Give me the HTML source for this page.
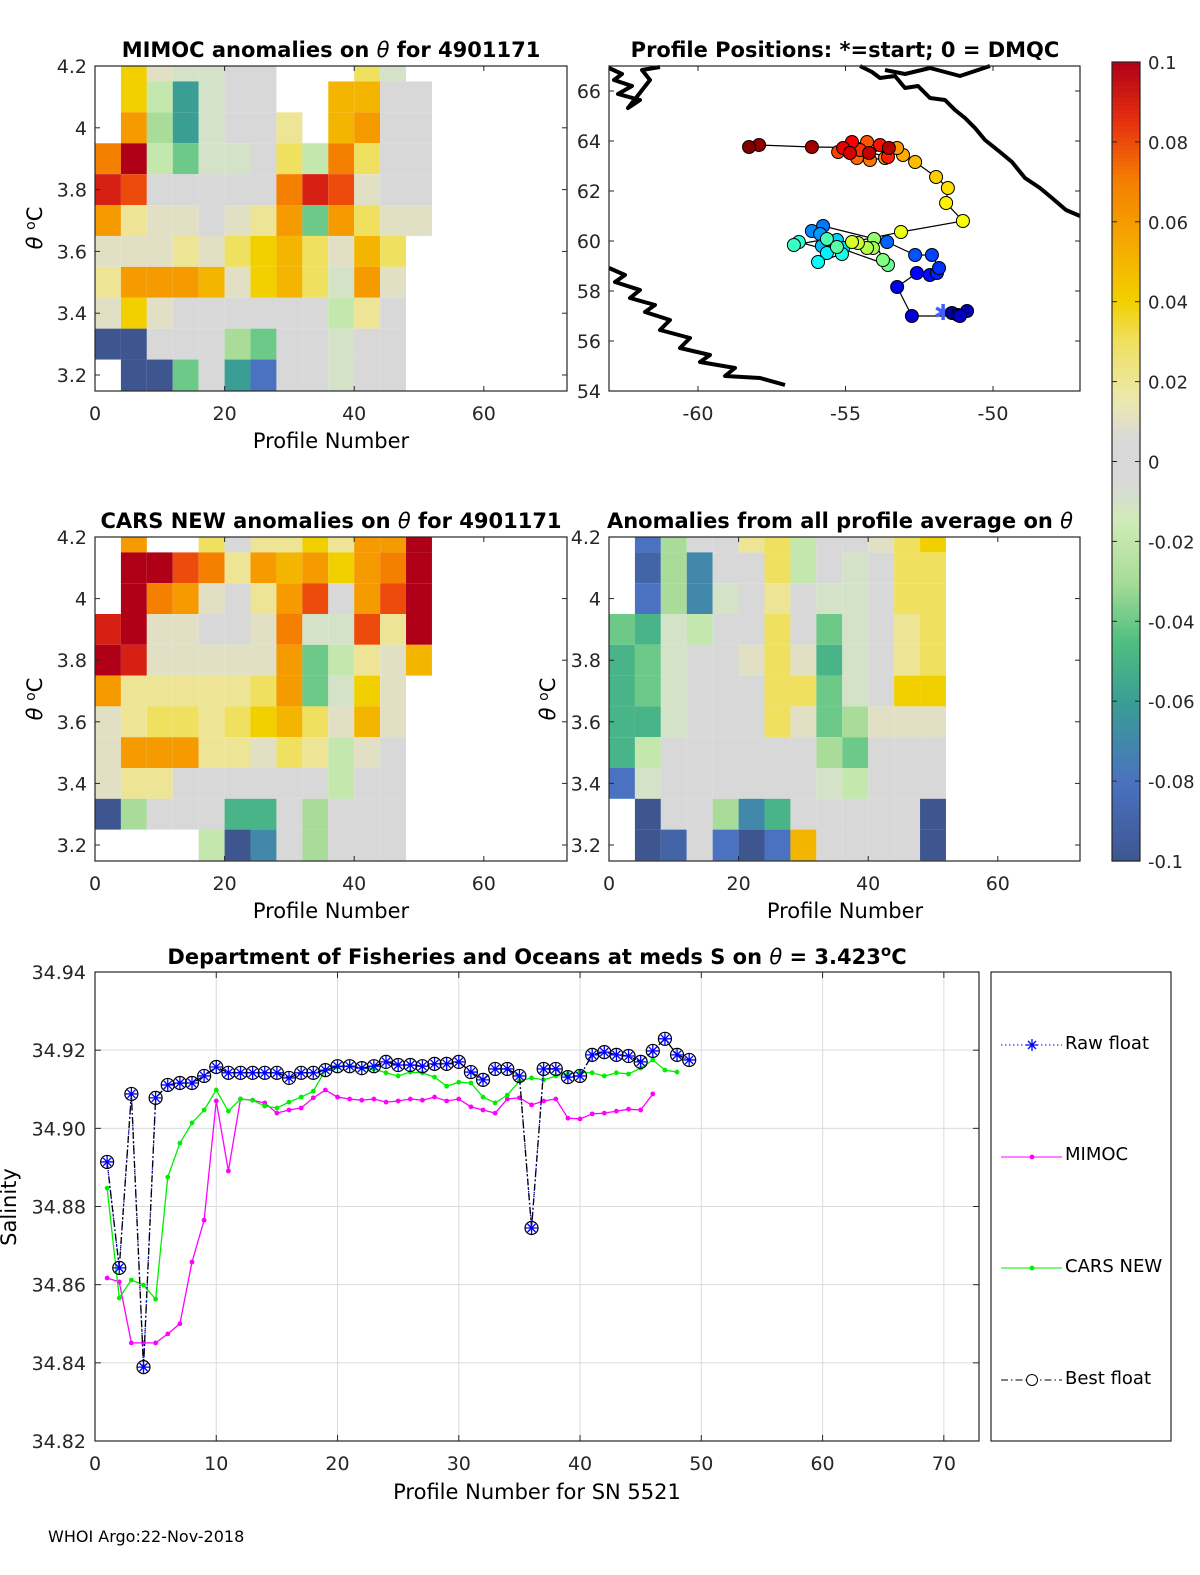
<!DOCTYPE html>
<html><head><meta charset="utf-8">
<style>
html,body{margin:0;padding:0;background:#fff;}
svg{display:block;font-family:"DejaVu Sans","Liberation Sans",sans-serif;}
</style></head>
<body>
<svg id="fig" width="1200" height="1575" viewBox="0 0 1200 1575" xmlns="http://www.w3.org/2000/svg">
<g id="heat1"></g>
<g id="heat2"></g>
<g id="heat3"></g>
<g id="mapg"></g>
<g id="cbar"></g>
<g id="bottom"></g>
<g id="axes"></g>
<text x="331" y="57" font-size="21" font-weight="bold" text-anchor="middle">MIMOC anomalies on <tspan font-style="italic" font-weight="normal">θ</tspan>  for 4901171</text>
<text x="845" y="57" font-size="21" font-weight="bold" text-anchor="middle">Profile Positions: *=start; 0 = DMQC</text>
<text x="331" y="528" font-size="21" font-weight="bold" text-anchor="middle">CARS NEW anomalies on <tspan font-style="italic" font-weight="normal">θ</tspan> for 4901171</text>
<text x="840" y="528" font-size="21" font-weight="bold" text-anchor="middle">Anomalies from all profile average on <tspan font-style="italic" font-weight="normal">θ</tspan></text>
<text x="537" y="964" font-size="21" font-weight="bold" text-anchor="middle">Department of Fisheries and Oceans at meds S on <tspan font-style="italic" font-weight="normal">θ</tspan> = 3.423<tspan dy="-8" font-size="15">o</tspan><tspan dy="8">C</tspan></text>
<text x="331" y="448" font-size="21" text-anchor="middle">Profile Number</text>
<text x="331" y="918" font-size="21" text-anchor="middle">Profile Number</text>
<text x="845" y="918" font-size="21" text-anchor="middle">Profile Number</text>
<text x="537" y="1499" font-size="21" text-anchor="middle">Profile Number for SN 5521</text>
<text transform="translate(42,228) rotate(-90)" font-size="21" text-anchor="middle"><tspan font-style="italic">θ</tspan> <tspan dy="-7" font-size="14">o</tspan><tspan dy="7">C</tspan></text>
<text transform="translate(42,699) rotate(-90)" font-size="21" text-anchor="middle"><tspan font-style="italic">θ</tspan> <tspan dy="-7" font-size="14">o</tspan><tspan dy="7">C</tspan></text>
<text transform="translate(555,699) rotate(-90)" font-size="21" text-anchor="middle"><tspan font-style="italic">θ</tspan> <tspan dy="-7" font-size="14">o</tspan><tspan dy="7">C</tspan></text>
<text transform="translate(16,1207) rotate(-90)" font-size="21" text-anchor="middle">Salinity</text>
<text x="48" y="1542" font-size="16">WHOI Argo:22-Nov-2018</text>
</svg>
<script>
const NS="http://www.w3.org/2000/svg";
const n=null;
// ---- heatmap data: rows theta 4.2 .. 3.2 step 0.1, cols profiles in blocks of 4 (0-4,...,48-52)
const thetaRows=[4.2,4.1,4.0,3.9,3.8,3.7,3.6,3.5,3.4,3.3,3.2];
const profileBlocks=[0,4,8,12,16,20,24,28,32,36,40,44,48];
const mimocGrid=[
[n,0.04,0.01,-0.01,-0.01,0,0,n,n,n,0.03,-0.01,n],
[n,0.04,-0.02,-0.06,-0.01,0,0,n,n,0.05,0.05,0,0],
[n,0.06,-0.03,-0.06,-0.01,0,0,0.02,n,0.05,0.06,0,0],
[0.07,0.1,-0.02,-0.04,-0.01,-0.01,0,0.03,-0.02,0.07,0.03,0,0],
[0.09,0.08,0,0,0,0,0,0.07,0.09,0.08,0.01,0,0],
[0.06,0.02,0.01,0.01,0,0.01,0.02,0.06,-0.04,0.06,0.03,0.01,0.01],
[0.01,0.01,0.01,0.02,0.01,0.03,0.04,0.05,0.03,0.01,0.05,0.03,n],
[0.02,0.06,0.06,0.06,0.05,0.01,0.04,0.05,0.03,-0.01,0.06,0.01,n],
[0.01,0.04,0.01,0,0,0,0,0,0,-0.02,0.02,0,n],
[-0.1,-0.1,0,0,0,-0.03,-0.04,0,0,-0.01,0,0,n],
[n,-0.1,-0.1,-0.04,0,-0.06,-0.08,0,0,-0.01,0,0,n]];
const carsGrid=[
[n,0.06,n,n,0.03,0,0.02,0.02,0.04,0.02,0.06,0.06,0.1],
[n,0.1,0.1,0.08,0.07,0.02,0.06,0.05,0.06,0.04,0.06,0.07,0.1],
[n,0.1,0.07,0.06,0.01,0,0.02,0.06,0.08,0,0.06,0.08,0.1],
[0.09,0.1,0.01,0.01,0,0,0.01,0.07,-0.01,-0.01,0.08,0.02,0.1],
[0.1,0.09,0.01,0.01,0.01,0.01,0.01,0.06,-0.04,-0.02,0.02,0.01,0.05],
[0.06,0.02,0.02,0.02,0.02,0.02,0.03,0.06,-0.04,-0.01,0.04,0.01,n],
[0.01,0.02,0.03,0.03,0.02,0.03,0.04,0.05,0.03,0.01,0.05,0.01,n],
[0.01,0.06,0.06,0.06,0.02,0.02,0.01,0.03,0.02,-0.02,0.01,0,n],
[0.01,0.02,0.02,0,0,0,0,0,0,-0.02,0,0,n],
[-0.1,-0.03,0,0,0,-0.05,-0.05,0,-0.03,0,0,0,n],
[n,n,n,n,-0.02,-0.1,-0.07,0,-0.03,0,0,0,n]];
const avgGrid=[
[n,-0.08,-0.03,0,0,0.02,0.03,-0.02,0,0,0.01,0.03,0.04],
[n,-0.09,-0.03,-0.07,0,0,0.03,-0.02,0,-0.01,0,0.03,0.03],
[n,-0.08,-0.03,-0.07,-0.01,0,0.02,0,-0.01,-0.01,0,0.03,0.03],
[-0.04,-0.05,-0.01,-0.02,0,0,0.03,0,-0.04,-0.01,0,0.02,0.03],
[-0.05,-0.04,-0.01,0,0,0.01,0.03,0.01,-0.05,-0.01,0,0.02,0.03],
[-0.05,-0.04,-0.01,0,0,0,0.03,0.03,-0.04,-0.01,0,0.04,0.04],
[-0.05,-0.05,-0.01,0,0,0,0.03,0.01,-0.04,-0.03,0.01,0.01,0.01],
[-0.05,-0.02,0,0,0,0,0,0,-0.03,-0.04,0,0,0],
[-0.08,-0.01,0,0,0,0,0,0,-0.01,-0.02,0,0,0],
[n,-0.1,0,0,-0.03,-0.07,-0.05,0,0,0,0,0,-0.1],
[n,-0.1,-0.09,0,-0.08,-0.1,-0.08,0.05,0,0,0,0,-0.1]];
// ---- map data
const lons=[-51.69,-51.39,-51.19,-50.88,-51.12,-52.75,-53.25,-52.58,-52.14,-51.90,-51.83,-52.07,-52.64,-53.59,-55.76,-56.14,-55.86,-55.63,-55.80,-55.29,-55.08,-55.63,-55.93,-55.12,-56.58,-56.75,-55.63,-55.29,-53.56,-53.73,-54.03,-54.07,-54.27,-54.58,-54.78,-53.12,-51.02,-51.59,-51.53,-51.93,-52.64,-53.05,-53.25,-53.66,-54.17,-54.61,-54.27,-55.25,-54.51,-53.56,-53.83,-54.78,-55.08,-54.85,-54.20,-53.53,-56.14,-57.93,-58.27];
const lats=[57.16,57.12,57.04,57.2,57.0,57.0,58.16,58.72,58.64,58.72,58.92,59.44,59.44,59.96,60.6,60.4,60.28,60.04,59.8,60.04,59.72,59.52,59.16,59.48,59.96,59.84,60.08,59.76,59.04,59.24,60.08,59.72,59.72,59.92,59.96,60.36,60.8,61.52,62.12,62.56,63.16,63.44,63.72,63.32,63.24,63.32,63.96,63.56,63.64,63.36,63.84,63.96,63.72,63.52,63.52,63.72,63.76,63.84,63.76];
// ---- salinity chart data
const profiles=[1,2,3,4,5,6,7,8,9,10,11,12,13,14,15,16,17,18,19,20,21,22,23,24,25,26,27,28,29,30,31,32,33,34,35,36,37,38,39,40,41,42,43,44,45,46,47,48,49];
const bestFloat=[34.8914,34.8643,34.9088,34.8389,34.9078,34.9111,34.9116,34.9116,34.9134,34.9157,34.9142,34.9142,34.9142,34.9142,34.9142,34.9129,34.9142,34.9142,34.9149,34.9159,34.9159,34.9154,34.9159,34.917,34.9162,34.9162,34.9159,34.9165,34.9165,34.917,34.9144,34.9124,34.9152,34.9152,34.9134,34.8745,34.9152,34.9152,34.9131,34.9134,34.9188,34.9195,34.9188,34.9185,34.917,34.9198,34.9229,34.9188,34.9175];
const carsVals=[34.8847,34.8566,34.8612,34.8599,34.8563,34.8875,34.8962,34.9014,34.9047,34.9098,34.9044,34.9075,34.9072,34.9057,34.9052,34.9067,34.908,34.9095,34.9149,34.9157,34.9159,34.9154,34.9152,34.9142,34.9134,34.9144,34.9142,34.9131,34.9108,34.9118,34.9116,34.908,34.9065,34.9085,34.9121,34.9129,34.9124,34.9134,34.9139,34.9144,34.9142,34.9134,34.9142,34.9139,34.9154,34.9175,34.9149,34.9144];
const mimocVals=[34.8617,34.8607,34.8451,34.8451,34.8451,34.8474,34.85,34.8658,34.8765,34.907,34.8891,34.9075,34.9072,34.9065,34.9039,34.9047,34.9052,34.9078,34.9098,34.908,34.9075,34.9072,34.9075,34.9067,34.907,34.9075,34.9072,34.908,34.907,34.9075,34.9055,34.9047,34.9039,34.9075,34.9078,34.906,34.907,34.9075,34.9026,34.9024,34.9037,34.9039,34.9044,34.9049,34.9047,34.9088];
const salTicks=[34.82,34.84,34.86,34.88,34.9,34.92,34.94];
const salXTicks=[0,10,20,30,40,50,60,70];
const thetaTicks=[3.2,3.4,3.6,3.8,4,4.2];
const profTicks=[0,20,40,60];
const latTicks=[54,56,58,60,62,64,66];
const lonTicks=[-60,-55,-50];
const cbarTicks=[0.1,0.08,0.06,0.04,0.02,0,-0.02,-0.04,-0.06,-0.08,-0.1];

function mk(tag,attrs,parent){const e=document.createElementNS(NS,tag);for(const k in attrs)e.setAttribute(k,attrs[k]);(parent||document.getElementById('fig')).appendChild(e);return e;}
const stops=[[-0.1,[61,86,144]],[-0.08,[74,114,192]],[-0.06,[58,158,148]],[-0.045,[79,191,128]],[-0.03,[168,220,152]],[-0.015,[208,236,184]],[-0.005,[216,216,216]],[0.005,[216,216,216]],[0.015,[236,232,176]],[0.03,[239,224,96]],[0.04,[242,208,0]],[0.055,[245,168,0]],[0.07,[245,128,0]],[0.085,[232,48,16]],[0.1,[176,0,24]]];
function cmap(v){v=Math.max(-0.1,Math.min(0.1,v));for(let i=0;i<stops.length-1;i++){const a=stops[i],b=stops[i+1];if(v<=b[0]){const t=(v-a[0])/(b[0]-a[0]||1);const c=a[1].map((x,j)=>Math.round(x+(b[1][j]-x)*t));return `rgb(${c[0]},${c[1]},${c[2]})`;}}return 'rgb(176,0,24)';}

function heatPanel(gid,grid,X0,Y0,W,H,thTop,pxPerTheta){
  const g=document.getElementById(gid);
  const xs=p=>X0+p*6.48; const ys=t=>Y0+(thTop-t)*pxPerTheta;
  grid.forEach((row,r)=>row.forEach((v,c)=>{
    if(v===null)return;
    const t=thetaRows[r];
    const y1=Math.max(Y0,ys(t+0.05)), y2=Math.min(Y0+H,ys(t-0.05));
    const x1=xs(profileBlocks[c]), x2=Math.min(X0+W,xs(profileBlocks[c]+4));
    const e=mk('rect',{x:x1,y:y1,width:x2-x1,height:y2-y1,fill:cmap(v)},g);
    
    
  }));
  const ax=document.getElementById('axes');
  const f=mk('rect',{x:X0,y:Y0,width:W,height:H,fill:'none',stroke:'#262626','stroke-width':1.2},ax);
  
  
  thetaTicks.forEach(t=>{const y=ys(t);if(y<Y0-1||y>Y0+H)return;
    mk('line',{x1:X0,x2:X0+5,y1:y,y2:y,stroke:'#262626'},ax);mk('line',{x1:X0+W,x2:X0+W-5,y1:y,y2:y,stroke:'#262626'},ax);
    const tx=mk('text',{x:X0-8,y:y+7,'font-size':19,'text-anchor':'end',fill:'#262626'},ax);tx.textContent=String(t);
    
    });
  profTicks.forEach(p=>{const x=xs(p);
    mk('line',{x1:x,x2:x,y1:Y0+H,y2:Y0+H-5,stroke:'#262626'},ax);mk('line',{x1:x,x2:x,y1:Y0,y2:Y0+5,stroke:'#262626'},ax);
    const tx=mk('text',{x:x,y:Y0+H+29,'font-size':19,'text-anchor':'middle',fill:'#262626'},ax);tx.textContent=String(p);
    
    });
}
heatPanel('heat1',mimocGrid,95,66,472,325,4.2,309);
heatPanel('heat2',carsGrid,95,537,472,324,4.2,308);
heatPanel('heat3',avgGrid,609,537,471,324,4.2,308);

// ---- map
(function(){
  const g=document.getElementById('mapg');
  const mx=lo=>698+(lo+60)*29.5, my=la=>391-(la-54)*25;
  const coasts=[
   "609,68 622,74 614,80 632,86 618,94 640,100 628,108 650,80 642,70 660,67",
   "860,66 872,72 880,78 895,76 905,88 918,86 930,98 945,100 955,110 965,118 975,128 985,140 1000,152 1012,162 1025,178 1040,188 1052,198 1066,210 1080,216",
   "885,70 905,74 930,68 960,76 990,66",
   "609,268 625,275 615,282 640,290 630,298 655,305 645,312 670,320 660,330 690,338 680,348 710,355 700,362 735,368 725,376 760,378 785,385"];
  coasts.forEach(p=>{const e=mk('polyline',{points:p,fill:'none',stroke:'#000','stroke-width':4,'stroke-linejoin':'round'},g);
    
    });
  const pts=lons.map((lo,i)=>mx(lo)+','+my(lats[i])).join(' ');
  const tr=mk('polyline',{points:pts,fill:'none',stroke:'#000','stroke-width':1.2},g);
  
  
  function jet(t){const r=Math.max(0,Math.min(1,1.5-Math.abs(4*t-3))),gg=Math.max(0,Math.min(1,1.5-Math.abs(4*t-2))),b=Math.max(0,Math.min(1,1.5-Math.abs(4*t-1)));return `rgb(${Math.round(r*255)},${Math.round(gg*255)},${Math.round(b*255)})`;}
  lons.forEach((lo,i)=>{
    if(i===0){const s=mk('text',{x:mx(lo),y:my(lats[i])+8,'font-size':22,'text-anchor':'middle',fill:'#4060ff'},g);s.textContent='✱';
      
      return;}
    const c=mk('circle',{cx:mx(lo),cy:my(lats[i]),r:6.5,fill:jet(i/(lons.length-1)),stroke:'#000','stroke-width':1},g);
    
    
  });
  const ax=document.getElementById('axes');
  const f=mk('rect',{x:609,y:66,width:471,height:325,fill:'none',stroke:'#262626','stroke-width':1.2},ax);
  
  
  latTicks.forEach(la=>{const y=my(la);mk('line',{x1:609,x2:614,y1:y,y2:y,stroke:'#262626'},ax);mk('line',{x1:1080,x2:1075,y1:y,y2:y,stroke:'#262626'},ax);
    const t=mk('text',{x:601,y:y+7,'font-size':19,'text-anchor':'end',fill:'#262626'},ax);t.textContent=String(la);
    
    });
  lonTicks.forEach(lo=>{const x=mx(lo);mk('line',{x1:x,x2:x,y1:391,y2:386,stroke:'#262626'},ax);mk('line',{x1:x,x2:x,y1:66,y2:71,stroke:'#262626'},ax);
    const t=mk('text',{x:x,y:420,'font-size':19,'text-anchor':'middle',fill:'#262626'},ax);t.textContent=String(lo);
    
    });
})();

// ---- colorbar
(function(){
  const g=document.getElementById('cbar');
  const cy=v=>62+(0.1-v)*(799/0.2);
  for(let i=0;i<200;i++){const v1=0.1-i*0.001;const r=mk('rect',{x:1112,y:cy(v1),width:28,height:799/200+0.6,fill:cmap(v1-0.0005)},g);
    
    }
  mk('rect',{x:1112,y:62,width:28,height:799,fill:'none',stroke:'#262626','stroke-width':1.2},g);
  cbarTicks.forEach(v=>{const y=cy(v);mk('line',{x1:1140,x2:1135,y1:y,y2:y,stroke:'#262626'},g);mk('line',{x1:1112,x2:1117,y1:y,y2:y,stroke:'#262626'},g);
    const t=mk('text',{x:1148,y:y+7,'font-size':18,fill:'#262626'},g);t.textContent=String(v);
    
    });
})();

// ---- salinity chart
(function(){
  const g=document.getElementById('bottom');
  const X0=95,X1=979,Y0=972,Y1=1441;
  const xs=p=>X0+p*(X1-X0)/72.9, ys=v=>Y1-(v-34.82)*(Y1-Y0)/0.12;
  mk('rect',{x:X0,y:Y0,width:X1-X0,height:Y1-Y0,fill:'#fff'},g);
  salXTicks.forEach(p=>{const x=xs(p);mk('line',{x1:x,x2:x,y1:Y0,y2:Y1,stroke:'#dcdcdc'},g);
    mk('line',{x1:x,x2:x,y1:Y1,y2:Y1-6,stroke:'#262626'},g);mk('line',{x1:x,x2:x,y1:Y0,y2:Y0+6,stroke:'#262626'},g);
    const t=mk('text',{x:x,y:Y1+29,'font-size':19,'text-anchor':'middle',fill:'#262626'},g);t.textContent=String(p);
    
    });
  salTicks.forEach(v=>{const y=ys(v);mk('line',{x1:X0,x2:X1,y1:y,y2:y,stroke:'#dcdcdc'},g);
    mk('line',{x1:X0,x2:X0+6,y1:y,y2:y,stroke:'#262626'},g);mk('line',{x1:X1,x2:X1-6,y1:y,y2:y,stroke:'#262626'},g);
    const t=mk('text',{x:X0-9,y:y+7,'font-size':19,'text-anchor':'end',fill:'#262626'},g);t.textContent=v.toFixed(2);
    
    });
  const line=(vals,color,dash,name)=>{const p=vals.map((v,i)=>xs(profiles[i])+','+ys(v)).join(' ');
    const e=mk('polyline',{points:p,fill:'none',stroke:color,'stroke-width':1.3,'stroke-dasharray':dash||'none'},g);
    
    };
  line(mimocVals,'#ff00ff',null,'mimoc-line');
  mimocVals.forEach((v,i)=>{const c=mk('circle',{cx:xs(profiles[i]),cy:ys(v),r:2.4,fill:'#ff00ff'},g);
    
    });
  line(carsVals,'#00ee00',null,'cars-line');
  carsVals.forEach((v,i)=>{const c=mk('circle',{cx:xs(profiles[i]),cy:ys(v),r:2.4,fill:'#00ee00'},g);
    
    });
  line(bestFloat,'#0000ff','1.5 2.5','raw-float-line');
  line(bestFloat,'#000','7 3 1.5 3','best-float-line');
  bestFloat.forEach((v,i)=>{const x=xs(profiles[i]),y=ys(v);
    const c=mk('circle',{cx:x,cy:y,r:6.5,fill:'none',stroke:'#000','stroke-width':1.2},g);
    
    
    const s=mk('path',{d:`M${x-6},${y}H${x+6}M${x},${y-6}V${y+6}M${x-4},${y-4}L${x+4},${y+4}M${x-4},${y+4}L${x+4},${y-4}`,stroke:'#0000ff','stroke-width':1.3},g);
    
    });
  mk('rect',{x:X0,y:Y0,width:X1-X0,height:Y1-Y0,fill:'none',stroke:'#262626','stroke-width':1.2},g);
  // legend
  const lg=mk('g',{},g);
  
  
  mk('rect',{x:991,y:972,width:180,height:469,fill:'#fff',stroke:'#262626','stroke-width':1.2},lg);
  const ent=[['Raw float',1045],['MIMOC',1156],['CARS NEW',1268],['Best float',1380]];
  ent.forEach(([lab,y])=>{const t=mk('text',{x:1065,y:y+4,'font-size':18,fill:'#000'},lg);t.textContent=lab;
    
    });
  mk('line',{x1:1001,x2:1062,y1:1045,y2:1045,stroke:'#0000ff','stroke-dasharray':'1.5 2.5'},lg);
  mk('path',{d:'M1026,1045H1038M1032,1039V1051M1028,1041L1036,1049M1028,1049L1036,1041',stroke:'#0000ff','stroke-width':1.3},lg);
  mk('line',{x1:1001,x2:1062,y1:1157,y2:1157,stroke:'#ff00ff'},lg);mk('circle',{cx:1032,cy:1157,r:2.4,fill:'#ff00ff'},lg);
  mk('line',{x1:1001,x2:1062,y1:1268,y2:1268,stroke:'#00ee00'},lg);mk('circle',{cx:1032,cy:1268,r:2.4,fill:'#00ee00'},lg);
  mk('line',{x1:1001,x2:1062,y1:1380,y2:1380,stroke:'#000','stroke-dasharray':'7 3 1.5 3'},lg);mk('circle',{cx:1032,cy:1380,r:5.5,fill:'#fff',stroke:'#000'},lg);
})();
</script>
</body></html>
